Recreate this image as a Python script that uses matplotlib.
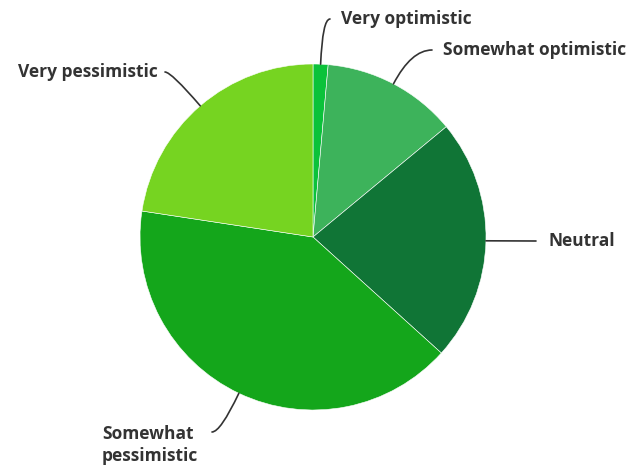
import numpy as np
import matplotlib
matplotlib.use("Agg")
import matplotlib.pyplot as plt

categories = ["Very optimistic", "Somewhat optimistic", "Neutral",
              "Somewhat pessimistic", "Very pessimistic"]
values = [1.4, 12.6, 22.7, 40.7, 22.6]
colors = ["#0BC23A", "#3DB35B", "#107536", "#14A61B", "#76D421"]
label_texts = ["Very optimistic", "Somewhat optimistic", "Neutral",
               "Somewhat\npessimistic", "Very pessimistic"]

W, H = 630, 468
fig = plt.figure(figsize=(W / 100, H / 100), dpi=100)
ax = fig.add_axes([0, 0, 1, 1])

cx, cy, r = 313, H - 237, 173
wedges, _ = ax.pie(values, colors=colors, startangle=90, counterclock=False,
                   center=(cx, cy), radius=r, frame=True,
                   wedgeprops=dict(edgecolor="white", linewidth=0.4))
ax.set_xlim(0, W)
ax.set_ylim(0, H)
ax.set_aspect("equal")
ax.axis("off")

# leader end points (x, y from top), text anchor, alignment
leaders = [
    ((330, 19), (341, 19), "left"),
    ((432, 50), (443, 50), "left"),
    ((536, 241), (548, 241), "left"),
    ((212, 432), (102, 445), "left"),
    ((165, 72), (158, 72), "right"),
]

for w, (end, txt, ha), lab in zip(wedges, leaders, label_texts):
    mid_deg = (w.theta1 + w.theta2) / 2
    mid = np.deg2rad(mid_deg)
    px = cx + r * np.cos(mid)
    py = cy + r * np.sin(mid)
    if abs(np.sin(mid)) < 0.05:
        cs = "arc3,rad=0"
    else:
        cs = f"angle3,angleA=0,angleB={mid_deg % 180:.1f}"
    ax.annotate("", xy=(px, py), xytext=(end[0], H - end[1]),
                arrowprops=dict(arrowstyle="-", color="#333333", lw=1.2,
                                shrinkA=0, shrinkB=0, connectionstyle=cs))
    ax.text(txt[0], H - txt[1], lab, ha=ha, va="center", fontsize=12.5,
            fontweight="bold", color="#333333", family="Open Sans",
            linespacing=1.35, multialignment="left")

fig.savefig("out.png", dpi=100)
